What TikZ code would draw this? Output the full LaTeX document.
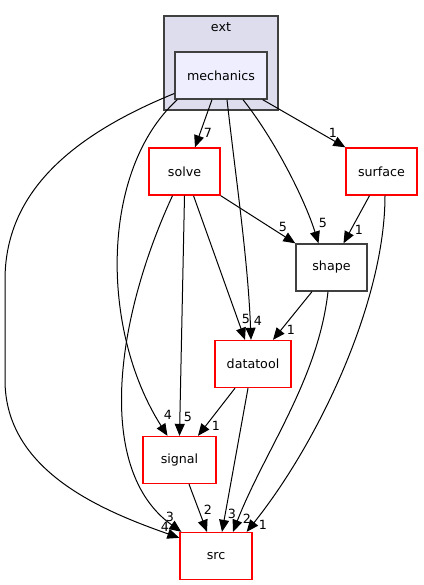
\documentclass[tikz,border=0pt]{standalone}
\usepackage{fontspec}
\setmainfont{DejaVu Sans}
\usetikzlibrary{arrows.meta,calc}
\definecolor{extfill}{HTML}{DDDDEE}
\definecolor{mechfill}{HTML}{EEEEFF}
\definecolor{frame}{HTML}{404040}

\begin{document}
\begin{tikzpicture}[x=0.75pt,y=-0.75pt,
  font=\fontsize{9.5}{11}\selectfont,
  box/.style={draw=#1,line width=1pt,fill=white,minimum height=47*0.75pt,inner sep=0pt},
  dep/.style={-{Triangle[length=9pt,width=7.5pt]},line width=0.75pt},
  num/.style={inner sep=0pt}]
\useasboundingbox (0,0) rectangle (424,585);

% cluster
\draw[draw=frame,fill=extfill,line width=1pt] (164,16) rectangle (278,110);
\node at (221,27) {ext};

\node[box=frame,fill=mechfill,minimum width=92*0.75pt] (mechanics) at (221,75.5) {mechanics};
\node[box=red,minimum width=71*0.75pt] (solve) at (184.5,171.5) {solve};
\node[box=red,minimum width=71*0.75pt] (surface) at (381.5,171.5) {surface};
\node[box=frame,minimum width=71*0.75pt] (shape) at (331.5,267.5) {shape};
\node[box=red,minimum width=76*0.75pt] (datatool) at (253,364) {datatool};
\node[box=red,minimum width=73*0.75pt] (signal) at (179.5,460) {signal};
\node[box=red,minimum width=72*0.75pt] (src) at (216,556) {src};

% mechanics
\draw[dep] ($(mechanics.south)+(-9,0)$) -- ($(solve.north)+(10.5,0)$);
\node[num] at (208,133) {7};
\draw[dep] ($(mechanics.south east)+(-5,0)$) -- (surface.north west);
\node[num] at (333,133) {1};
\draw[dep] ($(mechanics.south)+(22,0)$) .. controls (275,140) and (305,200) .. ($(shape.north)+(-13,0)$);
\node[num] at (323,223) {5};
\draw[dep] ($(mechanics.south)+(6,0)$) .. controls (236,180) and (248,260) .. ($(datatool.north)+(-2,0)$);
\node[num] at (258,321) {4};
\draw[dep] ($(mechanics.south west)+(3,0)$) .. controls (100,170) and (100,330) .. ($(signal.north)+(-12,0)$);
\node[num] at (168,415) {4};
\draw[dep] ($(mechanics.west)+(0,18)$) .. controls (60,140) and (5,200) .. (5,280) -- (5,380)
  .. controls (5,470) and (100,510) .. ($(src.north west)+(0,6)$);
\node[num] at (165,527) {4};

% solve
\draw[dep] (solve.south east) -- (shape.north west);
\node[num] at (283,227) {5};
\draw[dep] ($(solve.south)+(9,0)$) -- ($(datatool.north)+(-8,0)$);
\node[num] at (246,319) {5};
\draw[dep] (solve.south) -- (signal.north);
\node[num] at (188,417) {5};
\draw[dep] ($(solve.south)+(-12,0)$) .. controls (115,320) and (95,470) .. ($(src.north west)+(2,0)$);
\node[num] at (170,517) {3};

% surface
\draw[dep] ($(surface.south)+(-12,0)$) -- ($(shape.north)+(12,0)$);
\node[num] at (359,230) {1};
\draw[dep] ($(surface.south)+(3.5,0)$) .. controls (385,300) and (320,440) .. ($(src.north east)+(-6,0)$);
\node[num] at (263,525) {1};

% shape
\draw[dep] ($(shape.south)+(-19.5,0)$) -- ($(datatool.north)+(20,0)$);
\node[num] at (291,330) {1};
\draw[dep] ($(shape.south)+(-3.5,0)$) .. controls (318,380) and (265,450) .. ($(src.north)+(17,0)$);
\node[num] at (247,519) {2};

% datatool
\draw[dep] ($(datatool.south)+(-18,0)$) -- ($(signal.north)+(18.5,0)$);
\node[num] at (216,426) {1};
\draw[dep] ($(datatool.south)+(-5,0)$) -- ($(src.north)+(6,0)$);
\node[num] at (232,514) {3};

% signal
\draw[dep] ($(signal.south)+(9.5,0)$) -- ($(src.north)+(-9,0)$);
\node[num] at (208,510) {2};
\end{tikzpicture}
\end{document}
